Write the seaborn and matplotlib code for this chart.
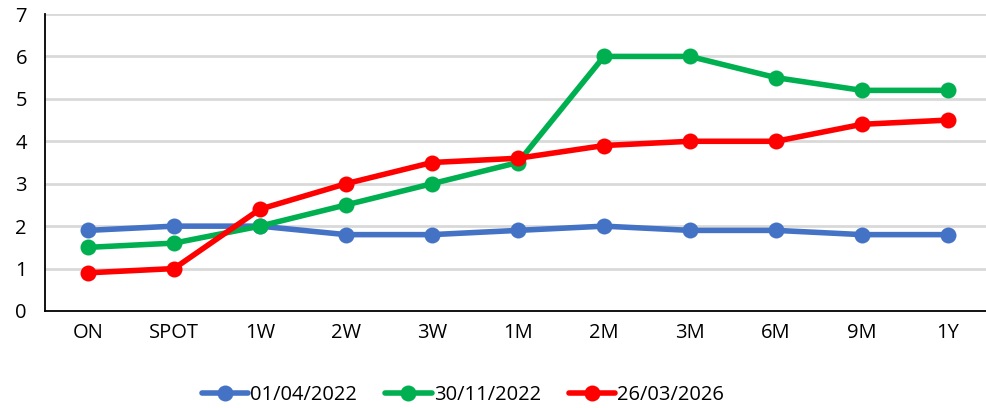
import matplotlib
matplotlib.use("Agg")
import matplotlib.pyplot as plt
import numpy as np
import pandas as pd
import seaborn as sns

tenors = ["ON", "SPOT", "1W", "2W", "3W", "1M", "2M", "3M", "6M", "9M", "1Y"]
series_names = ["01/04/2022", "30/11/2022", "26/03/2026"]
rates_2022_04 = [1.9, 2.0, 2.0, 1.8, 1.8, 1.9, 2.0, 1.9, 1.9, 1.8, 1.8]
rates_2022_11 = [1.5, 1.6, 2.0, 2.5, 3.0, 3.5, 6.0, 6.0, 5.5, 5.2, 5.2]
rates_2026_03 = [0.9, 1.0, 2.4, 3.0, 3.5, 3.6, 3.9, 4.0, 4.0, 4.4, 4.5]
colors = ["#4472C4", "#00B050", "#FF0000"]
y_ticks = [0, 1, 2, 3, 4, 5, 6, 7]

frames = []
for name, vals in zip(series_names, [rates_2022_04, rates_2022_11, rates_2026_03]):
    frames.append(pd.DataFrame({"tenor": tenors, "rate": vals, "date": name}))
df = pd.concat(frames, ignore_index=True)
df["pos"] = df["tenor"].map({t: i for i, t in enumerate(tenors)})

sns.set_style("white")
plt.rcParams["font.family"] = ["Open Sans", "DejaVu Sans"]
plt.rcParams["text.color"] = "black"
plt.rcParams["xtick.color"] = "black"
plt.rcParams["ytick.color"] = "black"
plt.rcParams["xtick.labelcolor"] = "black"
plt.rcParams["ytick.labelcolor"] = "black"

fig = plt.figure(figsize=(9.87, 4.08), dpi=100)
ax = fig.add_axes([45 / 987, 97 / 408, 946 / 987, 297 / 408])

sns.lineplot(data=df, x="pos", y="rate", hue="date", hue_order=series_names,
             palette=colors, marker="o", markersize=11.5, markeredgewidth=0,
             linewidth=4, sort=False, ax=ax, zorder=3)

ax.set_xlim(-0.5, len(tenors) - 0.5)
ax.set_ylim(0, 7)
ax.set_yticks(y_ticks)
ax.set_yticklabels([str(v) for v in y_ticks], fontsize=14.5)
ax.set_xticks(np.arange(len(tenors)))
ax.set_xticklabels(tenors, fontsize=14.5)
ax.set_xticks(np.arange(len(tenors) + 1) - 0.5, minor=True)
ax.tick_params(axis="x", which="major", length=0, pad=9)
ax.tick_params(axis="x", which="minor", length=7, width=1.3, color="black", direction="out")
ax.tick_params(axis="y", length=7, width=1.3, color="black", direction="out", pad=6)
ax.set_xlabel("")
ax.set_ylabel("")

for y in y_ticks[1:]:
    ax.axhline(y, color="#D9D9D9", linewidth=2, zorder=1)

for side in ["top", "right"]:
    ax.spines[side].set_visible(False)
for side in ["left", "bottom"]:
    ax.spines[side].set_color("black")
    ax.spines[side].set_linewidth(1.3)

handles, labels = ax.get_legend_handles_labels()
leg = ax.legend(handles, labels, loc="center", bbox_to_anchor=(463 / 987, 13 / 408),
                bbox_transform=fig.transFigure, ncol=3, frameon=False, fontsize=14.5,
                handlelength=2.3, handletextpad=0.1, columnspacing=1.4)
for t in leg.get_texts():
    t.set_color("black")

fig.savefig("out.png", dpi=100)
